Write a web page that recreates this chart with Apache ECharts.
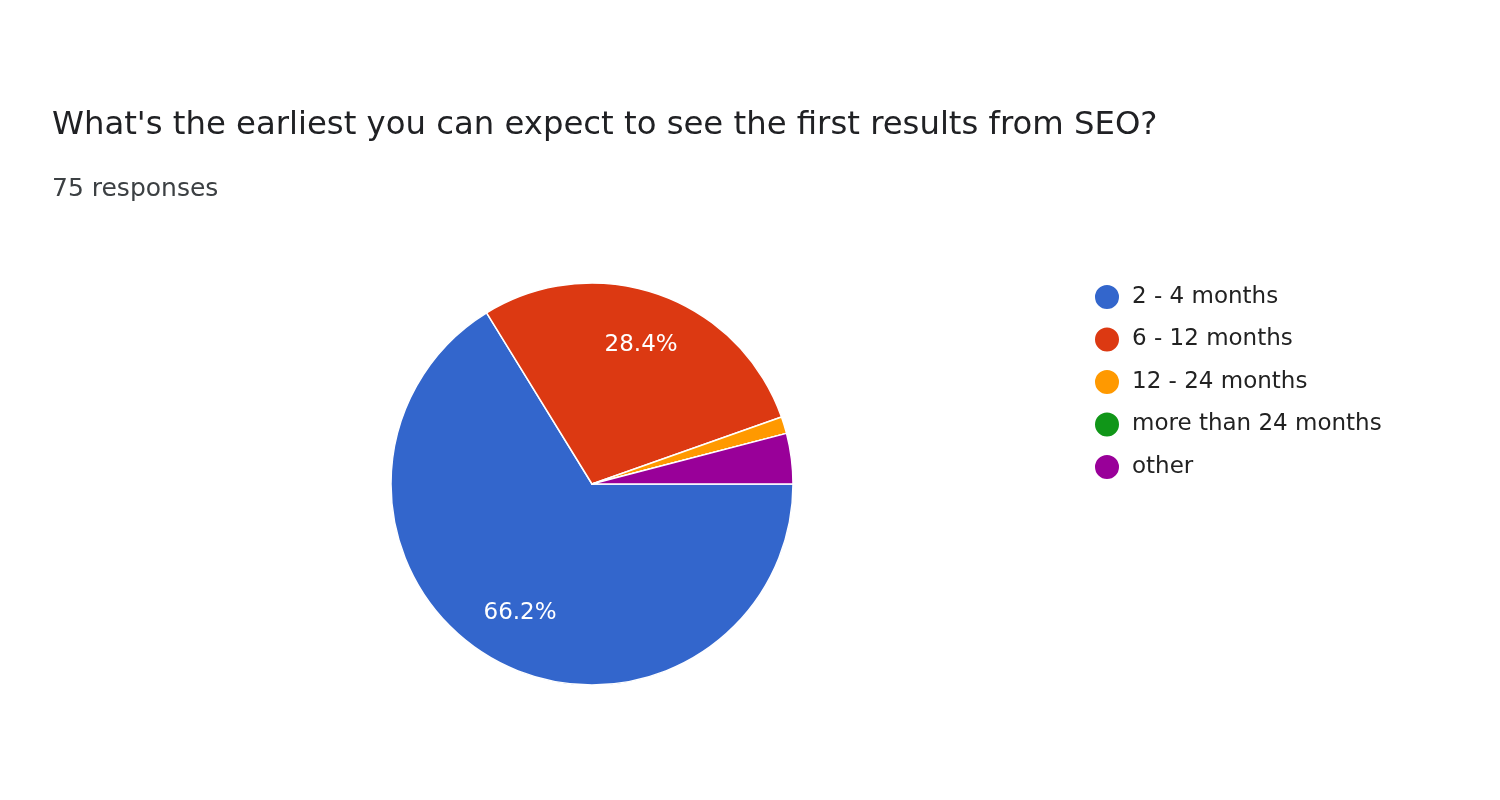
<!DOCTYPE html>
<html>
<head>
<meta charset="utf-8">
<script src="https://cdn.jsdelivr.net/npm/echarts@6/dist/echarts.min.js"></script>
<style>html,body{margin:0;padding:0;background:#fff}#c{width:1500px;height:800px}</style>
</head>
<body>
<div id="c"></div>
<script>
const titleText = "What's the earliest you can expect to see the first results from SEO?";
const subtitleText = "75 responses";
const categories = ["2 - 4 months", "6 - 12 months", "12 - 24 months", "more than 24 months", "other"];
const counts = [49, 21, 1, 0, 3];
const colors = ["#3366cc", "#dc3912", "#ff9900", "#109618", "#990099"];

const data = categories.map((n, i) => ({ name: n, value: counts[i] }));
const chart = echarts.init(document.getElementById('c'));
chart.setOption({
  backgroundColor: '#ffffff',
  color: colors,
  animation: false,
  title: [
    { text: titleText, left: 47, top: 105, textStyle: { fontFamily: 'DejaVu Sans', fontSize: 32.3, fontWeight: 'normal', color: '#202124' } },
    { text: subtitleText, left: 47, top: 172, textStyle: { fontFamily: 'DejaVu Sans', fontSize: 25, fontWeight: 'normal', color: '#3c4043' } }
  ],
  legend: {
    orient: 'vertical', left: 1088, top: 278,
    icon: 'circle', itemWidth: 26, itemHeight: 26, itemGap: 14.5,
    textStyle: { fontFamily: 'DejaVu Sans', fontSize: 23, lineHeight: 26, color: '#222222', padding: [0, 0, 0, 7] },
    data: categories
  },
  series: [
    {
      type: 'pie', center: [592, 484], radius: [0, 201], startAngle: 0, clockwise: true,
      percentPrecision: 1, silent: true,
      itemStyle: { borderColor: '#ffffff', borderWidth: 1.5 },
      label: { show: false }, labelLine: { show: false },
      data: data
    },
    {
      type: 'pie', center: [592, 484], radius: [88, 201], startAngle: 0, clockwise: true,
      percentPrecision: 1, silent: true, minShowLabelAngle: 20,
      itemStyle: { color: 'rgba(0,0,0,0)', borderWidth: 0 },
      label: { show: true, position: 'inside', formatter: p => p.percent.toFixed(1) + '%', color: '#ffffff', fontFamily: 'DejaVu Sans', fontSize: 23 },
      labelLine: { show: false },
      data: data
    }
  ]
});
</script>
</body>
</html>
